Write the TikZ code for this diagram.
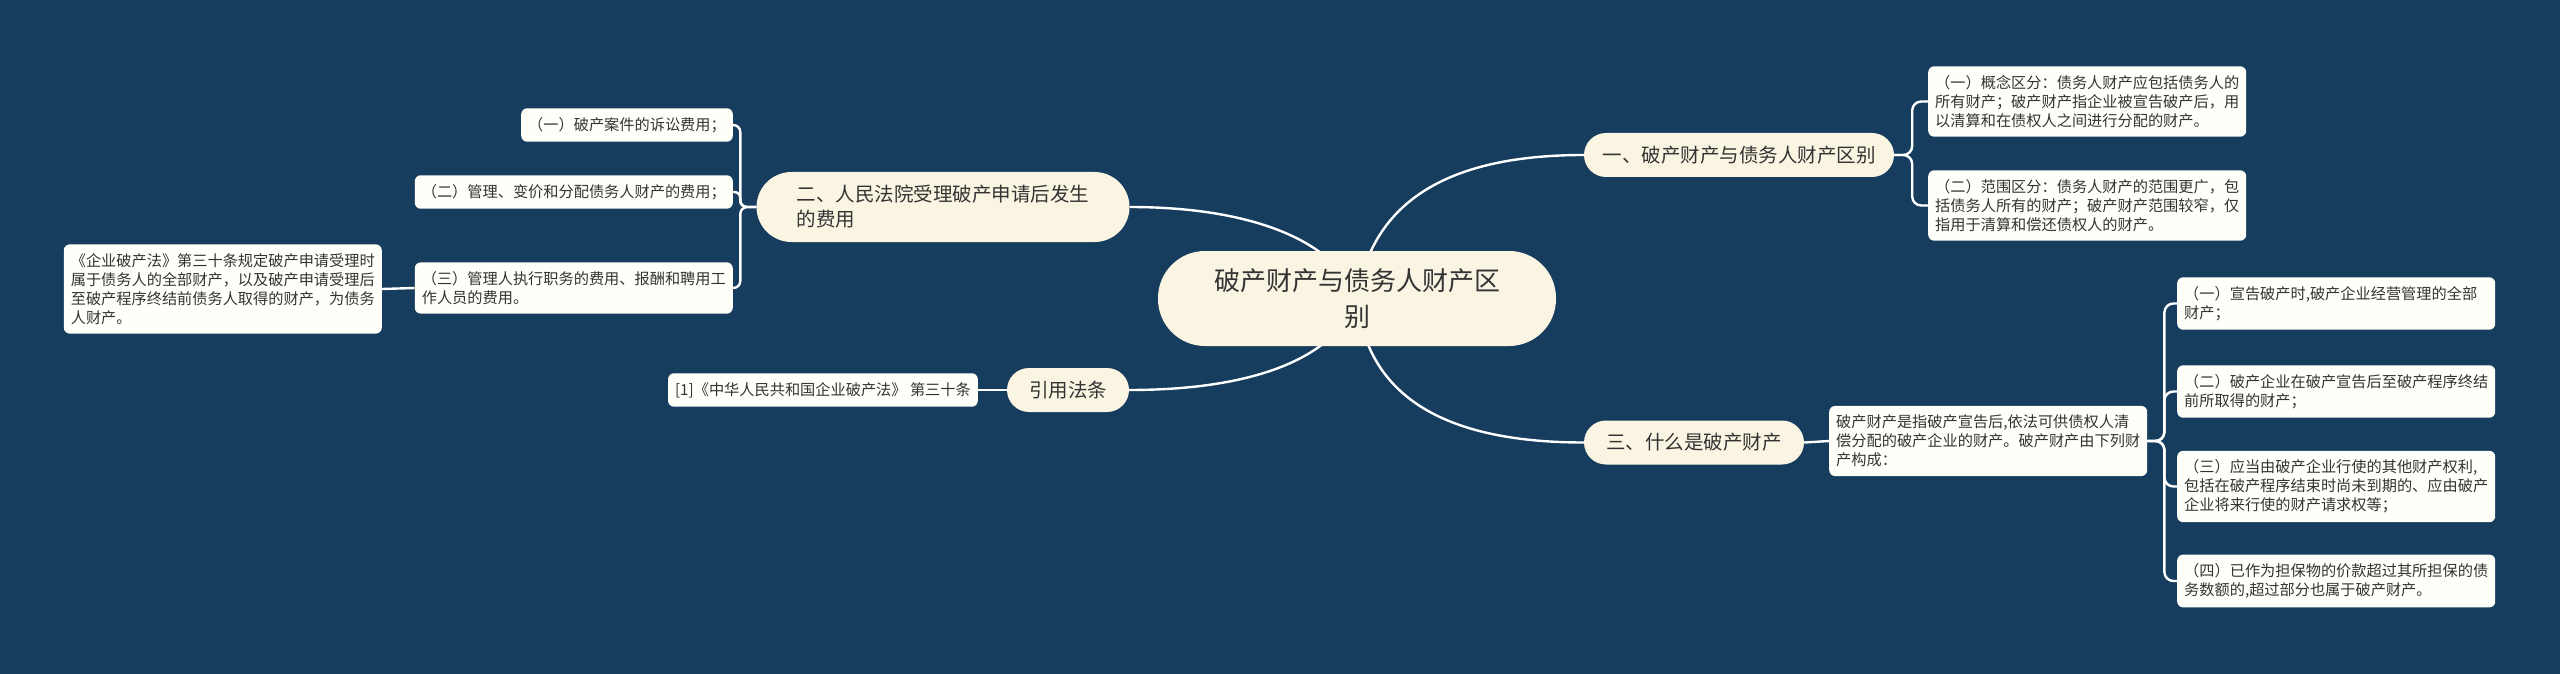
\documentclass[tikz,border=0pt]{standalone}
\usepackage{fontspec}
\newfontfamily\cjk{Noto Sans CJK SC}
\definecolor{bgc}{RGB}{23,61,94}
\definecolor{cream}{RGB}{250,244,226}
\definecolor{leafc}{RGB}{255,255,250}
\definecolor{txt}{RGB}{51,51,51}
\pgfdeclarelayer{bg}
\pgfsetlayers{bg,main}
\begin{document}
\begin{tikzpicture}[x=1pt,y=-1pt,
 conn/.style={draw=white, line width=2.4pt},
 rootbox/.style={fill=cream, rounded corners=47pt, minimum width=398pt, minimum height=95pt, align=center, text=txt, font=\cjk\fontsize{26}{36}\selectfont, inner sep=0pt},
 topicbox/.style={fill=cream, rounded corners=22pt, minimum height=44pt, text=txt, font=\cjk\fontsize{19.5}{25}\selectfont, inner sep=0pt},
 leafbox/.style={fill=leafc, rounded corners=6pt, align=left, text=txt, font=\cjk\fontsize{15.2}{19}\selectfont, inner xsep=7pt, inner ysep=9pt},
 wideleaf/.style={leafbox, text width=304pt},
]
\useasboundingbox (0,0) rectangle (2560,674);

% central and main topics
\node[rootbox] (C) at (1357,298.5) {破产财产与债务人财产区\\别};
\node[topicbox, minimum width=310pt] (B1) at (1739,155) {一、破产财产与债务人财产区别};
\node[topicbox, minimum width=373pt, minimum height=70pt, rounded corners=35pt, align=left] (B2) at (943,207) {二、人民法院受理破产申请后发生\\的费用};
\node[topicbox, minimum width=220pt] (B3) at (1694,442.5) {三、什么是破产财产};
\node[topicbox, minimum width=122pt] (B4) at (1068,390) {引用法条};

% leaves of branch 1
\node[wideleaf, anchor=west] (L1a) at (1928,101.5) {（一）概念区分：债务人财产应包括债务人的\\所有财产；破产财产指企业被宣告破产后，用\\以清算和在债权人之间进行分配的财产。};
\node[wideleaf, anchor=west] (L1b) at (1928,205.5) {（二）范围区分：债务人财产的范围更广，包\\括债务人所有的财产；破产财产范围较窄，仅\\指用于清算和偿还债权人的财产。};

% leaves of branch 2
\node[leafbox, anchor=east] (L2a) at (733,125) {（一）破产案件的诉讼费用；};
\node[leafbox, anchor=east] (L2b) at (733,192) {（二）管理、变价和分配债务人财产的费用；};
\node[wideleaf, anchor=east] (L2c) at (733,288) {（三）管理人执行职务的费用、报酬和聘用工\\作人员的费用。};
\node[wideleaf, anchor=east] (L2d) at (382,289) {《企业破产法》第三十条规定破产申请受理时\\属于债务人的全部财产，以及破产申请受理后\\至破产程序终结前债务人取得的财产，为债务\\人财产。};

% reference
\node[leafbox, anchor=east] (R1) at (978,390) {[1]《中华人民共和国企业破产法》 第三十条};

% branch 3
\node[wideleaf, anchor=west] (L3) at (1829,441) {破产财产是指破产宣告后,依法可供债权人清\\偿分配的破产企业的财产。破产财产由下列财\\产构成：};
\node[wideleaf, anchor=west] (L3a) at (2177,303.5) {（一）宣告破产时,破产企业经营管理的全部\\财产；};
\node[wideleaf, anchor=west] (L3b) at (2177,391.5) {（二）破产企业在破产宣告后至破产程序终结\\前所取得的财产；};
\node[wideleaf, anchor=west] (L3c) at (2177,486.5) {（三）应当由破产企业行使的其他财产权利,\\包括在破产程序结束时尚未到期的、应由破产\\企业将来行使的财产请求权等；};
\node[wideleaf, anchor=west] (L3d) at (2177,581) {（四）已作为担保物的价款超过其所担保的债\\务数额的,超过部分也属于破产财产。};

\begin{pgfonlayer}{bg}
\fill[bgc] (0,0) rectangle (2560,674);
\draw[conn] (C.center) .. controls (1372,200) and (1450,155) .. (B1.west);
\draw[conn] (C.center) .. controls (1335,240) and (1250,207) .. (B2.east);
\draw[conn] (C.center) .. controls (1335,360) and (1250,390) .. (B4.east);
\draw[conn] (C.center) .. controls (1367,400) and (1450,442.5) .. (B3.west);
\draw[conn, rounded corners=9pt] (B1.east) -- ++(18,0) |- (L1a.west);
\draw[conn, rounded corners=9pt] (B1.east) -- ++(18,0) |- (L1b.west);
\draw[conn, rounded corners=7pt] (B2.west) -- ++(-16,0) |- (L2a.east);
\draw[conn, rounded corners=6pt] (B2.west) -- ++(-16,0) |- (L2b.east);
\draw[conn, rounded corners=7pt] (B2.west) -- ++(-16,0) |- (L2c.east);
\draw[conn] (L2c.west) -- (L2d.east);
\draw[conn] (B4.west) -- (R1.east);
\draw[conn] (B3.east) -- (L3.west);
\draw[conn, rounded corners=9pt] (L3.east) -- ++(17,0) |- (L3a.west);
\draw[conn, rounded corners=9pt] (L3.east) -- ++(17,0) |- (L3b.west);
\draw[conn, rounded corners=9pt] (L3.east) -- ++(17,0) |- (L3c.west);
\draw[conn, rounded corners=9pt] (L3.east) -- ++(17,0) |- (L3d.west);
\end{pgfonlayer}
\end{tikzpicture}
\end{document}
